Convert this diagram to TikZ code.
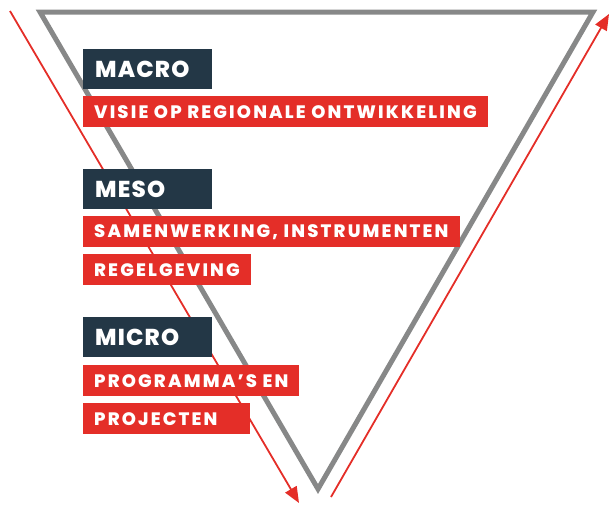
\documentclass[tikz,border=0pt]{standalone}
\usepackage{fontspec}
\setmainfont{Poppins}
\newfontfamily\levelfont[LetterSpace=5]{Poppins ExtraBold}
\newfontfamily\itemfont[LetterSpace=12]{Poppins ExtraBold}
\usetikzlibrary{arrows.meta}
\definecolor{navy}{HTML}{233746}
\definecolor{signalred}{HTML}{E42E28}
\definecolor{greyline}{HTML}{878888}

\begin{document}
\begin{tikzpicture}[x=1pt,y=-1pt,
  levelbox/.style={fill=navy,text=white,anchor=north west,
    font=\levelfont\fontsize{23}{23}\selectfont,
    inner xsep=12pt,inner ysep=0pt,minimum height=40pt,text width=105pt},
  itembox/.style={fill=signalred,text=white,anchor=north west,
    font=\itemfont\fontsize{18}{18}\selectfont,
    inner xsep=11pt,inner ysep=0pt,minimum height=31pt},
  flow/.style={signalred,line width=1.8pt,-{Triangle[length=16pt,width=13pt]}}]

\useasboundingbox (0,0) rectangle (610,504);

% trechter
\draw[greyline,line width=5pt,line join=miter] (40,12) -- (593,12) -- (318,489) -- cycle;

% pijlen langs de trechter
\coordinate (in1) at (10,11);
\coordinate (in2) at (299,503);
\coordinate (out1) at (331,497);
\coordinate (out2) at (609,14);
\draw[flow] (in1) -- (in2);
\draw[flow] (out1) -- (out2);

% macro
\node[levelbox] (macro) at (83,49) {MACRO};
\node[itembox] (macro1) at (83,96) {VISIE OP REGIONALE ONTWIKKELING};
% meso
\node[levelbox] (meso) at (83,169) {MESO};
\node[itembox] (meso1) at (83,216) {SAMENWERKING, INSTRUMENTEN};
\node[itembox] (meso2) at (83,254) {REGELGEVING};
% micro
\node[levelbox] (micro) at (83,317) {MICRO};
\node[itembox] (micro1) at (83,365) {PROGRAMMA’S EN};
\node[itembox,text width=145pt] (micro2) at (83,403) {PROJECTEN};
\end{tikzpicture}
\end{document}
